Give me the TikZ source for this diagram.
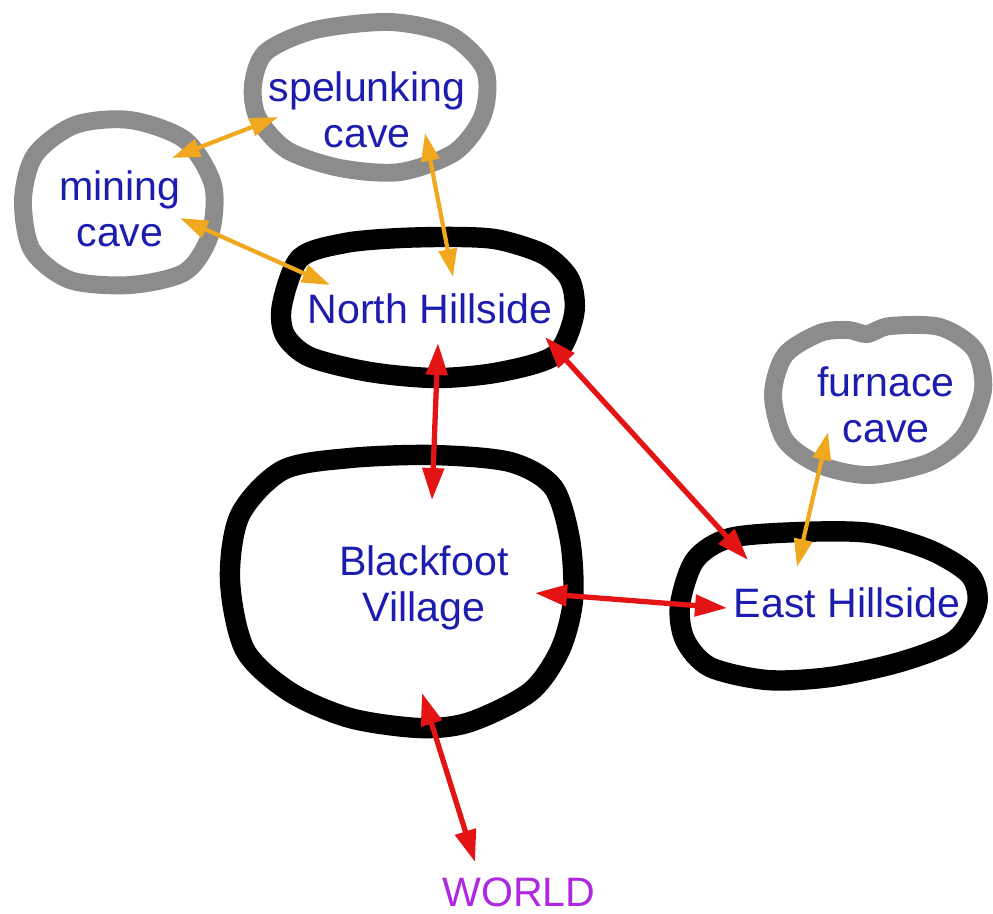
\documentclass[tikz,border=0pt]{standalone}
\usepackage{fontspec}
\setmainfont{Liberation Sans}
\usetikzlibrary{arrows.meta}

\definecolor{placetext}{RGB}{28,28,175}
\definecolor{worldtext}{RGB}{175,40,225}
\definecolor{cavegray}{RGB}{140,140,140}
\definecolor{pathorange}{RGB}{240,168,30}
\definecolor{pathred}{RGB}{228,20,20}

\tikzset{
  place/.style={text=placetext,align=center,inner sep=0pt,
    font=\fontsize{11.7}{13.1}\selectfont},
  cave/.style={draw=cavegray,line width=5.1pt,line join=round},
  area/.style={draw=black,line width=5.8pt,line join=round},
  cavepath/.style={draw=pathorange,line width=1.2pt,
    {Triangle[length=2.8mm,width=1.8mm]}-{Triangle[length=2.8mm,width=1.8mm]}},
  roadpath/.style={draw=pathred,line width=1.5pt,
    {Triangle[length=3.2mm,width=2.1mm]}-{Triangle[length=3.2mm,width=2.1mm]}}
}

\begin{document}
\begin{tikzpicture}[x=0.1mm,y=-0.1mm]
\useasboundingbox (0,0) rectangle (993,913);

%caves
\draw[cave] plot[smooth cycle] coordinates {(253,85) (266,52) (315,30) (390,22) (450,35)
  (485,70) (483,115) (455,152) (400,172) (340,168) (287,150) (258,118)};
\draw[cave] plot[smooth cycle] coordinates {(23,200) (35,155) (75,125) (130,120) (185,140)
  (213,185) (210,235) (185,272) (130,285) (70,280) (32,250)};
\draw[cave] plot[smooth cycle] coordinates {(773,395) (785,355) (820,333) (848,330) (867,334)
  (890,326) (940,327) (975,350) (983,390) (965,435) (930,462) (870,475) (820,465) (785,440)};

%hillsides and village
\draw[area] plot[smooth cycle] coordinates {(282,305) (300,258) (345,243) (400,238) (460,237)
  (500,240) (545,255) (570,280) (574,315) (555,355) (500,372) (437,378) (370,372) (310,357)
  (285,335)};
\draw[area] plot[smooth cycle] coordinates {(230,580) (240,515) (283,470) (350,458) (433,455)
  (510,462) (553,487) (570,540) (573,600) (560,650) (530,692) (470,722) (420,728) (350,718)
  (290,692) (245,650)};
\draw[area] plot[smooth cycle] coordinates {(680,605) (695,560) (730,538) (800,532) (870,533)
  (930,550) (970,575) (977,605) (955,640) (900,662) (830,677) (767,680) (710,667) (685,640)};

\node[place] (spel) at (367,110) {spelunking\\cave};
\node[place] (mining) at (120,209) {mining\\cave};
\node[place] (furnace) at (886,405) {furnace\\cave};
\node[place] (north) at (430,309) {North Hillside};
\node[place] (village) at (424,588) {Blackfoot\\Village};
\node[place] (east) at (847,603) {East Hillside};
\node[place,text=worldtext] (world) at (519,892) {WORLD};

%cave passages
\draw[cavepath] ([shift={(52,-51)}]mining.center) -- ([shift={(-89,7)}]spel.center);
\draw[cavepath] ([shift={(60,9)}]mining.center) -- ([shift={(-100,-24)}]north.center);
\draw[cavepath] ([shift={(58,23)}]spel.center) -- ([shift={(23,-32)}]north.center);
\draw[cavepath] ([shift={(-58,27)}]furnace.center) -- ([shift={(-50,-36)}]east.center);

%roads
\draw[roadpath] ([shift={(8,34)}]north.center) -- ([shift={(8,-88)}]village.center);
\draw[roadpath] ([shift={(115,28)}]north.center) -- ([shift={(-99,-43)}]east.center);
\draw[roadpath] ([shift={(111,5)}]village.center) -- ([shift={(-120,5)}]east.center);
\draw[roadpath] ([shift={(-2,105)}]village.center) -- ([shift={(-44,-30)}]world.center);

\end{tikzpicture}
\end{document}
